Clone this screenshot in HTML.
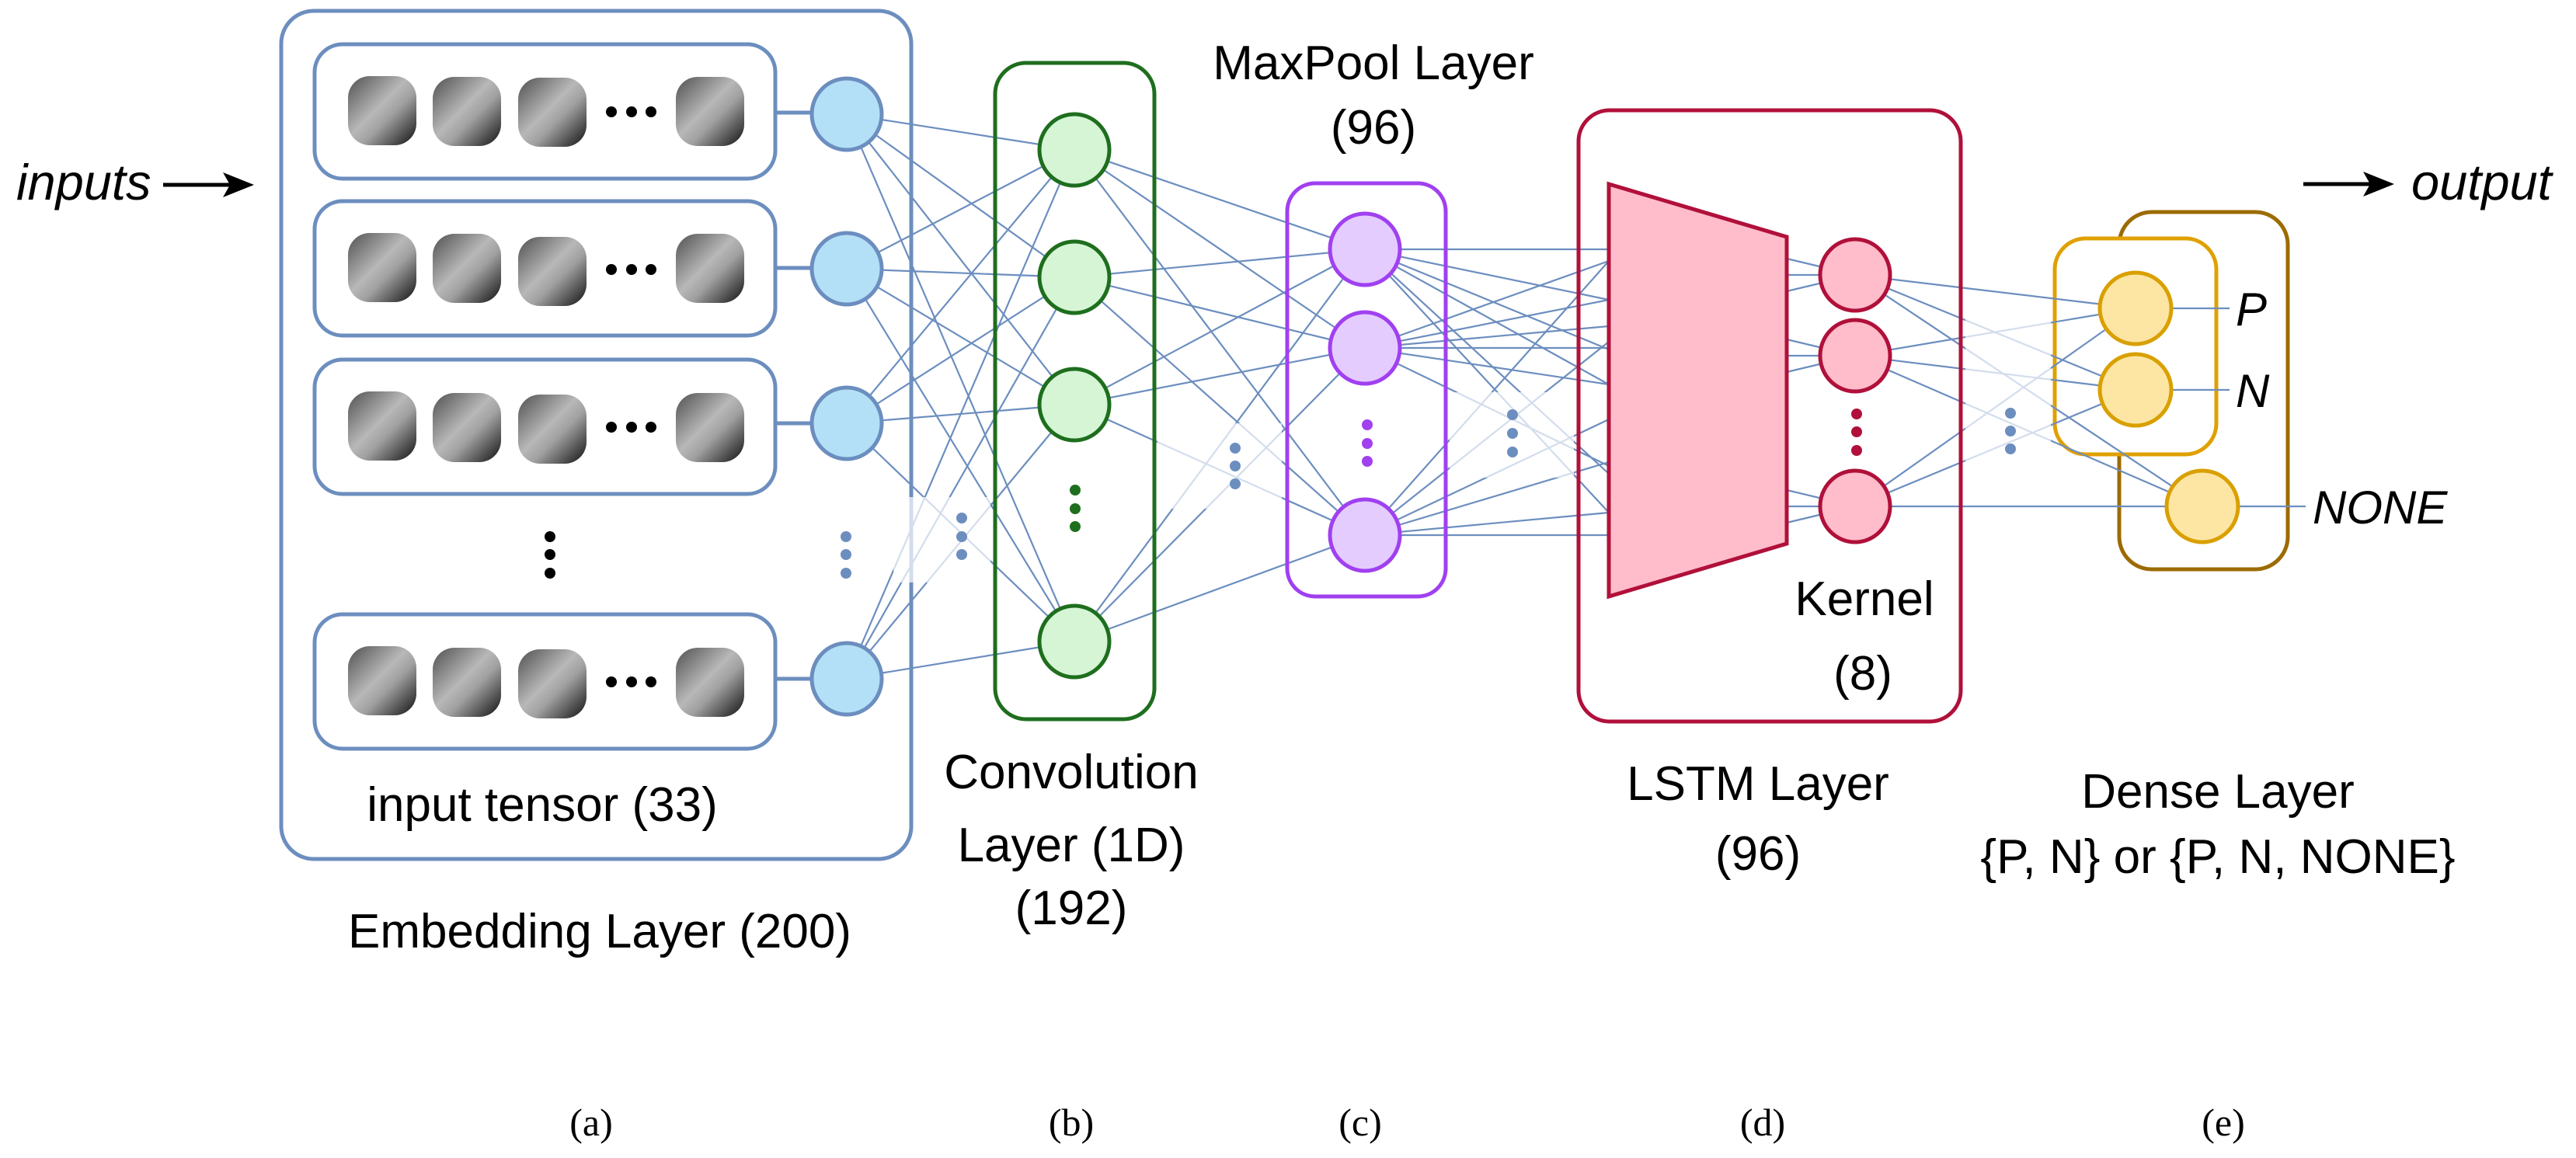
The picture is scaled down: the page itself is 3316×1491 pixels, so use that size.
<!DOCTYPE html>
<html><head><meta charset="utf-8"><style>
html,body{margin:0;padding:0;background:#fff;}
svg{display:block;}
text{font-family:"Liberation Sans",sans-serif;fill:#000;}
</style></head><body>
<svg width="3316" height="1491" viewBox="0 0 3316 1491" xmlns="http://www.w3.org/2000/svg">
<defs>
<linearGradient id="tg" x1="0" y1="0" x2="1" y2="1">
<stop offset="0" stop-color="#505050"/><stop offset="0.45" stop-color="#b8b8b8"/><stop offset="0.6" stop-color="#a0a0a0"/><stop offset="1" stop-color="#101010"/>
</linearGradient>
</defs>

<!-- inputs -->
<text x="21" y="257" font-size="65" font-style="italic">inputs</text>
<line x1="210" y1="238" x2="300" y2="238" stroke="#000" stroke-width="5"/>
<polygon points="327,238 287,222 296,238 287,254" fill="#000"/>

<!-- Embedding layer -->
<rect x="362" y="14" width="811" height="1092" rx="42" fill="none" stroke="#6c8ebf" stroke-width="5"/>
<g fill="none" stroke="#6c8ebf" stroke-width="5">
<rect x="405" y="57" width="593" height="173" rx="36"/>
<rect x="405" y="259" width="593" height="173" rx="36"/>
<rect x="405" y="463" width="593" height="173" rx="36"/>
<rect x="405" y="791" width="593" height="173" rx="36"/>
</g>
<g fill="url(#tg)">
<rect x="448" y="98" width="88" height="89" rx="28"/><rect x="557" y="99" width="88" height="89" rx="28"/><rect x="667" y="100" width="88" height="89" rx="28"/><rect x="870" y="99" width="88" height="89" rx="28"/>
<rect x="448" y="300" width="88" height="89" rx="28"/><rect x="557" y="301" width="88" height="89" rx="28"/><rect x="667" y="305" width="88" height="89" rx="28"/><rect x="870" y="301" width="88" height="89" rx="28"/>
<rect x="448" y="504" width="88" height="89" rx="28"/><rect x="557" y="506" width="88" height="89" rx="28"/><rect x="667" y="508" width="88" height="89" rx="28"/><rect x="870" y="506" width="88" height="89" rx="28"/>
<rect x="448" y="832" width="88" height="89" rx="28"/><rect x="557" y="834" width="88" height="89" rx="28"/><rect x="667" y="836" width="88" height="89" rx="28"/><rect x="870" y="834" width="88" height="89" rx="28"/>
</g>
<g fill="#000">
<circle cx="787" cy="144" r="7"/><circle cx="813" cy="144" r="7"/><circle cx="838" cy="144" r="7"/>
<circle cx="787" cy="347" r="7"/><circle cx="813" cy="347" r="7"/><circle cx="838" cy="347" r="7"/>
<circle cx="787" cy="550" r="7"/><circle cx="813" cy="550" r="7"/><circle cx="838" cy="550" r="7"/>
<circle cx="787" cy="878" r="7"/><circle cx="813" cy="878" r="7"/><circle cx="838" cy="878" r="7"/>
<circle cx="708" cy="691" r="7"/><circle cx="708" cy="714" r="7"/><circle cx="708" cy="738" r="7"/>
</g>
<g stroke="#6c8ebf" stroke-width="5">
<line x1="998" y1="145" x2="1044" y2="145"/><line x1="998" y1="345" x2="1044" y2="345"/>
<line x1="998" y1="545" x2="1044" y2="545"/><line x1="998" y1="874" x2="1044" y2="874"/>
</g>

<!-- Dense boxes (behind lines) -->
<rect x="2728" y="273" width="217" height="460" rx="42" fill="none" stroke="#9c6b00" stroke-width="5"/>
<rect x="2645" y="307" width="208" height="278" rx="40" fill="#fff" stroke="#e0a000" stroke-width="5"/>

<!-- connections -->
<g stroke="#6c8ebf" stroke-width="2.2" fill="none">
<line x1="1090" y1="147" x2="1383" y2="193"/><line x1="1090" y1="147" x2="1383" y2="357"/><line x1="1090" y1="147" x2="1383" y2="521"/><line x1="1090" y1="147" x2="1383" y2="826"/>
<line x1="1090" y1="346" x2="1383" y2="193"/><line x1="1090" y1="346" x2="1383" y2="357"/><line x1="1090" y1="346" x2="1383" y2="521"/><line x1="1090" y1="346" x2="1383" y2="826"/>
<line x1="1090" y1="545" x2="1383" y2="193"/><line x1="1090" y1="545" x2="1383" y2="357"/><line x1="1090" y1="545" x2="1383" y2="521"/><line x1="1090" y1="545" x2="1383" y2="826"/>
<line x1="1090" y1="874" x2="1383" y2="193"/><line x1="1090" y1="874" x2="1383" y2="357"/><line x1="1090" y1="874" x2="1383" y2="521"/><line x1="1090" y1="874" x2="1383" y2="826"/>
<line x1="1383" y1="193" x2="1757" y2="321"/><line x1="1383" y1="193" x2="1757" y2="448"/><line x1="1383" y1="193" x2="1757" y2="689"/>
<line x1="1383" y1="357" x2="1757" y2="321"/><line x1="1383" y1="357" x2="1757" y2="448"/><line x1="1383" y1="357" x2="1757" y2="689"/>
<line x1="1383" y1="521" x2="1757" y2="321"/><line x1="1383" y1="521" x2="1757" y2="448"/><line x1="1383" y1="521" x2="1757" y2="689"/>
<line x1="1383" y1="826" x2="1757" y2="321"/><line x1="1383" y1="826" x2="1757" y2="448"/><line x1="1383" y1="826" x2="1757" y2="689"/>
<line x1="1757" y1="321" x2="2071" y2="321"/><line x1="1757" y1="321" x2="2071" y2="386"/><line x1="1757" y1="321" x2="2071" y2="450"/><line x1="1757" y1="321" x2="2071" y2="495"/><line x1="1757" y1="321" x2="2071" y2="610"/><line x1="1757" y1="321" x2="2071" y2="660"/>
<line x1="1757" y1="448" x2="2071" y2="336"/><line x1="1757" y1="448" x2="2071" y2="386"/><line x1="1757" y1="448" x2="2071" y2="420"/><line x1="1757" y1="448" x2="2071" y2="448"/><line x1="1757" y1="448" x2="2071" y2="495"/><line x1="1757" y1="448" x2="2071" y2="600"/>
<line x1="1757" y1="689" x2="2071" y2="336"/><line x1="1757" y1="689" x2="2071" y2="440"/><line x1="1757" y1="689" x2="2071" y2="540"/><line x1="1757" y1="689" x2="2071" y2="595"/><line x1="1757" y1="689" x2="2071" y2="660"/><line x1="1757" y1="689" x2="2071" y2="689"/>
<line x1="2300" y1="333" x2="2388" y2="354"/><line x1="2300" y1="354" x2="2388" y2="354"/><line x1="2300" y1="375" x2="2388" y2="354"/>
<line x1="2300" y1="437" x2="2388" y2="458"/><line x1="2300" y1="458" x2="2388" y2="458"/><line x1="2300" y1="479" x2="2388" y2="458"/>
<line x1="2300" y1="631" x2="2388" y2="652"/><line x1="2300" y1="652" x2="2388" y2="652"/><line x1="2300" y1="673" x2="2388" y2="652"/>
<line x1="2388" y1="354" x2="2749" y2="397"/><line x1="2388" y1="354" x2="2749" y2="502"/><line x1="2388" y1="354" x2="2835" y2="652"/>
<line x1="2388" y1="458" x2="2749" y2="397"/><line x1="2388" y1="458" x2="2749" y2="502"/><line x1="2388" y1="458" x2="2835" y2="652"/>
<line x1="2388" y1="652" x2="2749" y2="397"/><line x1="2388" y1="652" x2="2749" y2="502"/><line x1="2388" y1="652" x2="2835" y2="652"/>
<line x1="2749" y1="397" x2="2870" y2="397"/><line x1="2749" y1="502" x2="2870" y2="502"/><line x1="2835" y1="652" x2="2968" y2="652"/>
</g>

<rect x="1281" y="81" width="205" height="845" rx="40" fill="none" stroke="#1e6e1e" stroke-width="5"/>
<rect x="1657" y="236" width="204" height="532" rx="36" fill="none" stroke="#a040f0" stroke-width="5"/>
<rect x="2032" y="142" width="492" height="787" rx="40" fill="none" stroke="#b0103a" stroke-width="5"/>

<g fill="#fff" fill-opacity="0.7">
<rect x="1150" y="640" width="125" height="110"/>
<rect x="1490" y="545" width="160" height="110"/>
<rect x="1866" y="505" width="160" height="110"/>
<rect x="2530" y="390" width="110" height="210"/>
</g>

<g fill="#b3e0f7" stroke="#6c8ebf" stroke-width="5">
<ellipse cx="1090" cy="147" rx="45" ry="46"/><ellipse cx="1090" cy="346" rx="45" ry="46"/><ellipse cx="1090" cy="545" rx="45" ry="46"/><ellipse cx="1090" cy="874" rx="45" ry="46"/>
</g>
<g fill="#6c8ebf">
<circle cx="1089" cy="691" r="7"/><circle cx="1089" cy="714" r="7"/><circle cx="1089" cy="738" r="7"/>
<circle cx="1238" cy="667" r="7"/><circle cx="1238" cy="691" r="7"/><circle cx="1238" cy="714" r="7"/>
<circle cx="1590" cy="577" r="7"/><circle cx="1590" cy="600" r="7"/><circle cx="1590" cy="623" r="7"/>
<circle cx="1947" cy="534" r="7"/><circle cx="1947" cy="558" r="7"/><circle cx="1947" cy="582" r="7"/>
<circle cx="2588" cy="532" r="7"/><circle cx="2588" cy="555" r="7"/><circle cx="2588" cy="578" r="7"/>
</g>
<g fill="#d5f5d5" stroke="#1e6e1e" stroke-width="5">
<ellipse cx="1383" cy="193" rx="45" ry="46"/><ellipse cx="1383" cy="357" rx="45" ry="46"/><ellipse cx="1383" cy="521" rx="45" ry="46"/><ellipse cx="1383" cy="826" rx="45" ry="46"/>
</g>
<g fill="#1e6e1e"><circle cx="1384" cy="631" r="7"/><circle cx="1384" cy="655" r="7"/><circle cx="1384" cy="678" r="7"/></g>
<g fill="#e5ccff" stroke="#a040f0" stroke-width="5">
<ellipse cx="1757" cy="321" rx="45" ry="46"/><ellipse cx="1757" cy="448" rx="45" ry="46"/><ellipse cx="1757" cy="689" rx="45" ry="46"/>
</g>
<g fill="#a040f0"><circle cx="1760" cy="547" r="7"/><circle cx="1760" cy="571" r="7"/><circle cx="1760" cy="594" r="7"/></g>
<polygon points="2071,237 2300,305 2300,700 2071,768" fill="#ffbccb" stroke="#b0103a" stroke-width="5"/>
<g fill="#ffbccb" stroke="#b0103a" stroke-width="5">
<ellipse cx="2388" cy="354" rx="45" ry="46"/><ellipse cx="2388" cy="458" rx="45" ry="46"/><ellipse cx="2388" cy="652" rx="45" ry="46"/>
</g>
<g fill="#b0103a"><circle cx="2390" cy="533" r="7"/><circle cx="2390" cy="556" r="7"/><circle cx="2390" cy="580" r="7"/></g>
<g fill="#fde5a4" stroke="#d9a000" stroke-width="5">
<ellipse cx="2749" cy="397" rx="46" ry="46"/><ellipse cx="2749" cy="502" rx="46" ry="46"/><ellipse cx="2835" cy="652" rx="46" ry="46"/>
</g>

<line x1="2965" y1="237" x2="3055" y2="237" stroke="#000" stroke-width="5"/>
<polygon points="3082,237 3042,221 3051,237 3042,253" fill="#000"/>
<text x="3104" y="257" font-size="65" font-style="italic">output</text>
<g font-size="60" font-style="italic">
<text x="2878" y="419">P</text><text x="2878" y="524">N</text><text x="2977" y="674">NONE</text>
</g>

<g font-size="62" text-anchor="middle">
<text x="1768" y="102">MaxPool Layer</text>
<text x="1768" y="185">(96)</text>
<text x="2400" y="792">Kernel</text>
<text x="2398" y="888">(8)</text>
<text x="698" y="1057">input tensor  (33)</text>
<text x="772" y="1220">Embedding Layer (200)</text>
<text x="1379" y="1015">Convolution</text>
<text x="1379" y="1109">Layer (1D)</text>
<text x="1379" y="1190">(192)</text>
<text x="2263" y="1030">LSTM Layer</text>
<text x="2263" y="1120">(96)</text>
<text x="2855" y="1040">Dense Layer</text>
<text x="2855" y="1124">{P, N} or {P, N, NONE}</text>
</g>
<g font-size="50" text-anchor="middle">
<text x="761" y="1462" style="font-family:'Liberation Serif',serif">(a)</text>
<text x="1379" y="1462" style="font-family:'Liberation Serif',serif">(b)</text>
<text x="1751" y="1462" style="font-family:'Liberation Serif',serif">(c)</text>
<text x="2269" y="1462" style="font-family:'Liberation Serif',serif">(d)</text>
<text x="2862" y="1462" style="font-family:'Liberation Serif',serif">(e)</text>
</g>
</svg>
</body></html>
